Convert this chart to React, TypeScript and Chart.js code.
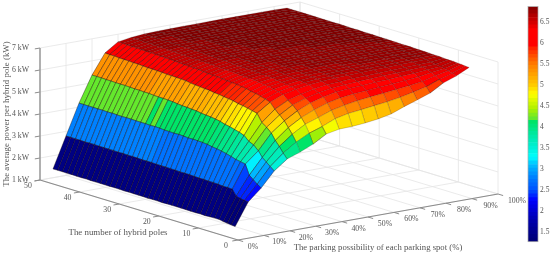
import React, { useEffect, useRef } from "react";
import { Chart, registerables } from "chart.js";
Chart.register(...registerables);

const W = 550, H = 256;
const FONT = '"Liberation Serif", serif';
const TEXT = "#555";

const parkingPercents = [5,10,15,20,25,30,35,40,45,50,55,60,65,70,75,80,85,90,95];
const poleCounts = [4,5,6,7,8,9.2,10.4,11.6,12.8,14,15.2,16.4,17.6,18.8,20,21.2,22.4,23.6,24.8,26,27.2,28.4,29.6,30.8,32,33.2,34.4,35.6,36.8,38,39.2,40.4,41.6,42.8,44,45.2,46.4,47.6,48.8,50];
const powerRows = [
[1.29,2.30,2.83,3.50,3.94,4.15,4.41,4.76,4.88,4.90,4.95,5.03,5.15,5.38,5.58,5.79,6.14,6.35,6.64],
[1.31,2.32,2.95,3.65,4.15,4.55,4.85,5.05,5.30,5.43,5.50,5.58,5.65,5.75,5.88,6.02,6.25,6.42,6.65],
[1.33,2.35,3.10,3.80,4.40,4.85,5.20,5.40,5.62,5.75,5.85,5.92,5.98,6.05,6.12,6.20,6.36,6.48,6.67],
[1.35,2.40,3.25,3.95,4.62,5.10,5.45,5.70,5.90,6.03,6.10,6.15,6.20,6.25,6.30,6.36,6.45,6.53,6.68],
[1.39,2.66,3.70,4.20,4.90,5.35,5.70,5.95,6.12,6.25,6.30,6.33,6.37,6.40,6.44,6.47,6.52,6.57,6.70],
[1.39,2.67,3.74,4.40,5.10,5.55,5.90,6.10,6.25,6.35,6.40,6.44,6.47,6.50,6.52,6.55,6.58,6.61,6.70],
[1.38,2.67,3.78,4.50,5.25,5.75,6.05,6.22,6.35,6.44,6.48,6.52,6.54,6.56,6.58,6.60,6.62,6.64,6.71],
[1.37,2.69,3.85,4.70,5.60,6.00,6.25,6.38,6.48,6.54,6.58,6.60,6.62,6.64,6.65,6.67,6.68,6.69,6.73],
[1.38,2.70,3.91,4.78,5.65,6.08,6.31,6.43,6.52,6.57,6.61,6.63,6.65,6.66,6.67,6.69,6.70,6.71,6.73],
[1.37,2.70,3.96,4.84,5.70,6.14,6.36,6.47,6.55,6.60,6.63,6.65,6.67,6.68,6.69,6.71,6.72,6.72,6.74],
[1.37,2.71,4.00,4.90,5.75,6.20,6.40,6.50,6.58,6.62,6.65,6.67,6.69,6.70,6.71,6.72,6.73,6.73,6.75],
[1.38,2.71,4.03,4.94,5.78,6.23,6.43,6.53,6.60,6.64,6.67,6.69,6.70,6.71,6.72,6.73,6.74,6.74,6.75],
[1.38,2.72,4.07,5.01,5.84,6.29,6.48,6.57,6.63,6.67,6.70,6.71,6.72,6.73,6.74,6.75,6.75,6.76,6.76],
[1.38,2.73,4.09,5.05,5.87,6.32,6.50,6.59,6.65,6.69,6.71,6.72,6.73,6.74,6.75,6.75,6.76,6.76,6.77],
[1.38,2.73,4.10,5.08,5.90,6.35,6.52,6.60,6.66,6.70,6.72,6.73,6.74,6.75,6.76,6.76,6.77,6.77,6.77],
[1.38,2.73,4.11,5.10,5.93,6.37,6.53,6.61,6.67,6.71,6.73,6.74,6.75,6.76,6.76,6.77,6.77,6.78,6.77],
[1.37,2.74,4.10,5.12,5.95,6.38,6.54,6.62,6.68,6.71,6.73,6.75,6.75,6.76,6.77,6.77,6.78,6.78,6.78],
[1.38,2.74,4.12,5.16,5.99,6.41,6.56,6.64,6.69,6.72,6.75,6.76,6.76,6.77,6.78,6.78,6.78,6.79,6.78],
[1.38,2.75,4.13,5.17,6.00,6.43,6.57,6.65,6.70,6.73,6.75,6.76,6.77,6.78,6.78,6.78,6.79,6.79,6.79],
[1.37,2.75,4.12,5.19,6.02,6.44,6.58,6.66,6.71,6.74,6.76,6.77,6.77,6.78,6.78,6.79,6.79,6.79,6.79],
[1.38,2.75,4.13,5.20,6.04,6.45,6.59,6.67,6.72,6.74,6.76,6.77,6.78,6.79,6.79,6.79,6.80,6.80,6.79],
[1.38,2.76,4.13,5.22,6.06,6.47,6.60,6.68,6.72,6.75,6.77,6.78,6.78,6.79,6.79,6.80,6.80,6.80,6.80],
[1.38,2.76,4.15,5.25,6.10,6.50,6.62,6.70,6.74,6.76,6.78,6.79,6.79,6.80,6.80,6.80,6.81,6.81,6.80],
[1.39,2.76,4.16,5.26,6.11,6.51,6.63,6.71,6.74,6.77,6.78,6.79,6.80,6.80,6.81,6.81,6.81,6.81,6.80],
[1.38,2.77,4.15,5.27,6.12,6.52,6.64,6.71,6.75,6.77,6.79,6.80,6.80,6.81,6.81,6.81,6.81,6.82,6.81],
[1.39,2.77,4.16,5.27,6.13,6.53,6.65,6.72,6.75,6.78,6.79,6.80,6.80,6.81,6.81,6.82,6.82,6.82,6.81],
[1.39,2.77,4.16,5.28,6.13,6.54,6.65,6.73,6.76,6.78,6.79,6.80,6.81,6.81,6.82,6.82,6.82,6.82,6.81],
[1.39,2.78,4.16,5.30,6.15,6.56,6.67,6.74,6.77,6.79,6.80,6.81,6.81,6.82,6.82,6.82,6.82,6.83,6.82],
[1.39,2.77,4.17,5.30,6.16,6.57,6.67,6.75,6.77,6.79,6.80,6.81,6.82,6.82,6.82,6.83,6.83,6.83,6.82],
[1.39,2.78,4.17,5.31,6.17,6.58,6.68,6.75,6.78,6.79,6.81,6.82,6.82,6.82,6.83,6.83,6.83,6.83,6.82],
[1.39,2.78,4.16,5.31,6.17,6.59,6.69,6.75,6.78,6.80,6.81,6.82,6.82,6.83,6.83,6.83,6.83,6.83,6.82],
[1.39,2.78,4.17,5.32,6.18,6.60,6.70,6.76,6.78,6.80,6.81,6.82,6.82,6.83,6.83,6.83,6.83,6.83,6.82],
[1.40,2.78,4.18,5.33,6.20,6.61,6.71,6.77,6.79,6.81,6.82,6.82,6.83,6.83,6.83,6.84,6.84,6.84,6.82],
[1.39,2.79,4.17,5.33,6.20,6.61,6.71,6.77,6.79,6.81,6.82,6.83,6.83,6.84,6.84,6.84,6.84,6.84,6.83],
[1.39,2.79,4.18,5.33,6.21,6.62,6.72,6.78,6.80,6.81,6.82,6.83,6.83,6.84,6.84,6.84,6.84,6.84,6.83],
[1.40,2.78,4.18,5.34,6.22,6.63,6.72,6.78,6.80,6.82,6.83,6.83,6.84,6.84,6.84,6.84,6.84,6.84,6.83],
[1.40,2.79,4.18,5.34,6.22,6.63,6.73,6.79,6.81,6.82,6.83,6.83,6.84,6.84,6.84,6.85,6.85,6.85,6.83],
[1.40,2.79,4.18,5.35,6.24,6.64,6.74,6.79,6.81,6.83,6.83,6.84,6.84,6.85,6.85,6.85,6.85,6.85,6.83],
[1.40,2.79,4.18,5.35,6.24,6.65,6.74,6.80,6.82,6.83,6.84,6.84,6.85,6.85,6.85,6.85,6.85,6.85,6.83],
[1.40,2.79,4.18,5.35,6.25,6.65,6.75,6.80,6.82,6.83,6.84,6.84,6.85,6.85,6.85,6.85,6.85,6.85,6.83],
];

const parkingTicks = [0,10,20,30,40,50,60,70,80,90,100];
const poleTicks = [0,10,20,30,40,50];
const powerTicks = [1,2,3,4,5,6,7];
const colorbarTicks = [1.5,2,2.5,3,3.5,4,4.5,5,5.5,6,6.5];
const COLOR_MIN = 1.26, COLOR_MAX = 6.87, COLOR_LEVELS = 64;
const colorStops: [number, number, number, number][] = [
  [1.26,0,0,115],[1.78,0,0,175],[2.25,0,0,255],[2.48,0,80,255],[2.8,0,130,255],[3.11,0,195,255],
  [3.27,0,255,255],[3.5,0,240,215],[3.82,0,232,160],[4.13,0,228,100],[4.15,85,230,55],[4.41,170,240,0],
  [4.77,255,255,0],[5.0,255,200,0],[5.48,255,125,0],[5.85,255,40,0],[5.95,255,0,0],[6.32,255,0,0],[6.42,225,0,0],[6.66,175,0,0],[6.87,125,0,0],
];

// orthographic view of the (percent, poles, kW) box on the chart's own x/y scales
const project = (p: number, n: number, z: number) => ({
  x: 238 + 2.6 * p - 3.96 * n,
  y: 240 - 0.46 * p - 1.2 * n - 22 * (z - 1),
});

function colorOf(v: number) {
  const t = Math.min(COLOR_LEVELS - 1, Math.max(0, Math.floor(((v - COLOR_MIN) / (COLOR_MAX - COLOR_MIN)) * COLOR_LEVELS)));
  const c = COLOR_MIN + ((t + 0.5) / COLOR_LEVELS) * (COLOR_MAX - COLOR_MIN);
  for (let i = 1; i < colorStops.length; i++) {
    const a = colorStops[i - 1], b = colorStops[i];
    if (c <= b[0]) {
      const f = (c - a[0]) / (b[0] - a[0]);
      return `rgb(${Math.round(a[1] + f * (b[1] - a[1]))},${Math.round(a[2] + f * (b[2] - a[2]))},${Math.round(a[3] + f * (b[3] - a[3]))})`;
    }
  }
  return "rgb(125,0,0)";
}

const seg = (pts: { x: number; y: number }[], color: string, width: number) => ({
  data: pts, showLine: true, fill: false, borderColor: color, borderWidth: width, pointRadius: 0, tension: 0,
});

function buildDatasets() {
  const out: any[] = [];
  // first dataset is painted last: nearest cells first
  for (let i = 0; i < poleCounts.length - 1; i++) {
    for (let j = 0; j < parkingPercents.length - 1; j++) {
      const p0 = parkingPercents[j], p1 = parkingPercents[j + 1], n0 = poleCounts[i], n1 = poleCounts[i + 1];
      const pts = [
        project(p0, n0, powerRows[i][j]), project(p1, n0, powerRows[i][j + 1]),
        project(p1, n1, powerRows[i + 1][j + 1]), project(p0, n1, powerRows[i + 1][j]), project(p0, n0, powerRows[i][j]),
      ];
      const steep = Math.abs(powerRows[i][j + 1] - powerRows[i][j]) > 0.3;
      out.push({
        data: pts, showLine: true, fill: "shape", backgroundColor: colorOf(powerRows[i][j]),
        borderColor: steep ? "rgba(20,0,0,0.58)" : "rgba(30,0,0,0.34)", borderWidth: steep ? 0.65 : 0.55, pointRadius: 0, tension: 0,
      });
    }
  }
  const AX = "#8c8c8c";
  out.push(seg([project(0, 50, 1), project(0, 50, 7)], "#999", 1.5));
  out.push(seg([project(0, 50, 1), project(0, 0, 1)], AX, 1.1));
  out.push(seg([project(0, 0, 1), project(100, 0, 1)], AX, 1.1));
  for (const z of powerTicks) out.push(seg([project(0, 50, z), project(-2, 50, z)], AX, 1));
  for (const n of poleTicks) out.push(seg([project(0, n, 1), project(-2.2, n, 1)], AX, 1));
  for (const p of parkingTicks) out.push(seg([project(p, 0, 1), project(p, -1.3, 1)], AX, 1));
  const GR = "#e4e4e4";
  for (const p of parkingTicks) {
    out.push(seg([project(p, 0, 1), project(p, 50, 1)], GR, 0.8));
    out.push(seg([project(p, 50, 1), project(p, 50, 7)], GR, 0.8));
  }
  for (const n of poleTicks) {
    out.push(seg([project(0, n, 1), project(100, n, 1)], GR, 0.8));
    out.push(seg([project(100, n, 1), project(100, n, 7)], GR, 0.8));
  }
  for (const z of powerTicks) {
    out.push(seg([project(0, 50, z), project(100, 50, z)], GR, 0.8));
    out.push(seg([project(100, 50, z), project(100, 0, z)], GR, 0.8));
  }
  return out;
}

const labelPlugin = {
  id: "boxLabels",
  afterDraw(chart: any) {
    const { ctx, scales } = chart;
    const px = (v: number) => scales.x.getPixelForValue(v);
    const py = (v: number) => scales.y.getPixelForValue(v);
    ctx.save();
    ctx.fillStyle = TEXT;
    ctx.font = `7.8px ${FONT}`;
    ctx.textBaseline = "middle";
    ctx.textAlign = "right";
    for (const z of powerTicks) {
      const q = project(0, 50, z);
      ctx.fillText(`${z} kW`, px(q.x - 11), py(q.y));
    }
    ctx.textAlign = "center";
    for (const n of poleTicks) {
      const q = project(0, n, 1);
      ctx.fillText(`${n}`, px(q.x - 12), py(q.y + 5.5));
    }
    parkingTicks.forEach((p) => {
      const q = project(p, 0, 1);
      ctx.fillText(`${p}%`, px(q.x + 15 + p * 0.04), py(q.y + 7));
    });
    ctx.font = `8.9px ${FONT}`;
    ctx.fillText("The number of hybrid poles", px(118), py(233));
    ctx.font = `8.7px ${FONT}`;
    ctx.fillText("The parking possibility of each parking spot (%)", px(378), py(248));
    ctx.font = `8.9px ${FONT}`;
    ctx.translate(px(6.5), py(114));
    ctx.rotate(-Math.PI / 2);
    ctx.fillText("The average power per hybrid pole (kW)", 0, 0);
    ctx.restore();
  },
};

const barFrame = {
  id: "barFrame",
  afterDraw(chart: any) {
    const { ctx, chartArea: a } = chart;
    ctx.save();
    ctx.strokeStyle = "#aaa";
    ctx.lineWidth = 0.7;
    ctx.strokeRect(a.left, a.top, a.right - a.left, a.bottom - a.top);
    ctx.restore();
  },
};

export default function App() {
  const mainRef = useRef<HTMLCanvasElement>(null);
  const barRef = useRef<HTMLCanvasElement>(null);
  useEffect(() => {
    const main = new Chart(mainRef.current!, {
      type: "scatter",
      data: { datasets: buildDatasets() },
      options: {
        animation: false, responsive: false, events: [],
        layout: { padding: 0 },
        plugins: { legend: { display: false }, tooltip: { enabled: false } },
        scales: {
          x: { type: "linear", min: 0, max: W, display: false },
          y: { type: "linear", min: 0, max: H, reverse: true, display: false },
        },
      },
      plugins: [labelPlugin],
    } as any);
    const bands: any[] = [];
    for (let i = 0; i < COLOR_LEVELS; i++) {
      const lo = COLOR_MIN + (i / COLOR_LEVELS) * (COLOR_MAX - COLOR_MIN);
      const hi = COLOR_MIN + ((i + 1) / COLOR_LEVELS) * (COLOR_MAX - COLOR_MIN);
      bands.push({ data: [[lo, hi]], backgroundColor: colorOf((lo + hi) / 2), borderWidth: 0, barPercentage: 1, categoryPercentage: 1, grouped: false });
    }
    const bar = new Chart(barRef.current!, {
      type: "bar",
      data: { labels: ["kW"], datasets: bands },
      options: {
        animation: false, responsive: false, events: [],
        layout: { padding: { left: 528, top: 4.5, bottom: 14.3, right: 0 } },
        plugins: { legend: { display: false }, tooltip: { enabled: false } },
        scales: {
          x: { display: false },
          y: {
            type: "linear", position: "right", min: COLOR_MIN, max: COLOR_MAX,
            afterFit: (s: any) => { s.width = 12; },
            afterBuildTicks: (s: any) => { s.ticks = colorbarTicks.map((value) => ({ value })); },
            grid: { display: false, drawTicks: false },
            border: { display: false },
            ticks: { font: { family: FONT, size: 7.5 }, color: TEXT, padding: 2, callback: (v: any) => String(v) },
          },
        },
      },
      plugins: [barFrame],
    } as any);
    return () => { main.destroy(); bar.destroy(); };
  }, []);
  const style: React.CSSProperties = { position: "absolute", left: 0, top: 0, display: "block" };
  return (
    <div style={{ position: "absolute", left: 0, top: 0, width: W, height: H, background: "#fff" }}>
      <canvas ref={mainRef} width={W} height={H} style={style} />
      <canvas ref={barRef} width={W} height={H} style={style} />
    </div>
  );
}
